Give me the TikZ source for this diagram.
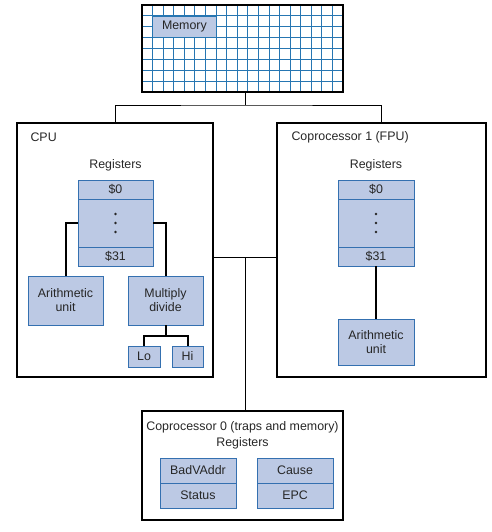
\documentclass[tikz,border=0pt]{standalone}
\usepackage{fontspec}
\setmainfont{Liberation Sans}
\usepackage{tikz}
\definecolor{regfill}{RGB}{188,201,228}
\definecolor{regline}{RGB}{52,112,176}
\definecolor{gridline}{RGB}{38,118,178}
\colorlet{symbols}{black!85}

\begin{document}
\begin{tikzpicture}[x=1pt,y=-1pt,
  font=\fontsize{12.4}{14}\selectfont, text=symbols,
  unitbox/.style={draw=regline, fill=regfill, line width=0.8pt, inner sep=0pt},
  outerbox/.style={draw, line width=1.6pt, inner sep=0pt},
  bus/.style={line width=0.8pt},
  wire/.style={line width=2pt}]
\useasboundingbox (0,0) rectangle (491,532);

% memory grid
\foreach \i in {1,...,18}
  \draw[gridline, line width=0.9pt] ({142+\i*201/19},5) -- ({142+\i*201/19},92);
\foreach \j in {1,...,7}
  \draw[gridline, line width=0.9pt] (142,{5+\j*87/8}) -- (343,{5+\j*87/8});
\node[unitbox, draw=gridline, minimum width=63.5, minimum height=21.75] (memlbl) at (184.4,26.8) {Memory};
\node[outerbox, minimum width=201, minimum height=87] (mem) at (242.5,48.5) {};

% outer boxes
\node[outerbox, minimum width=196, minimum height=254] (cpu) at (115,250) {};
\node[outerbox, minimum width=209, minimum height=254] (fpu) at (381.5,250) {};
\node[outerbox, minimum width=201, minimum height=109] (cp0) at (242.5,465.5) {};
\node[anchor=west] (cpulbl) at (27,137) {CPU};
\node[anchor=west] (fpulbl) at (288,137) {Coprocessor 1 (FPU)};

% buses
\coordinate (memjoin) at (245,105);
\coordinate (midjoin) at (245,257);
\draw[bus] (mem.south -| memjoin) -- (memjoin);
\draw[bus] (cpu.north) |- (memjoin) -| (fpu.north);
\draw[bus] (cpu.east |- midjoin) -- (fpu.west |- midjoin);
\draw[bus] (midjoin) -- (midjoin |- cp0.north);

% CPU
\node (cpureg) at (115.5,165) {Registers};
\node[unitbox, minimum width=75, minimum height=19] (cpur0) at (115.5,189.5) {\$0};
\node[unitbox, minimum width=75, minimum height=48] (cpudots) at (115.5,223) {};
\node[unitbox, minimum width=75, minimum height=19] (cpur31) at (115.5,256.5) {\$31};
\foreach \d in {-9,0,9}
  \fill[symbols] (cpudots.center) ++(0,\d) circle (1.4);
\node[unitbox, minimum width=75, minimum height=49, align=center] (cpualu) at (65.5,300.5) {Arithmetic\\unit};
\node[unitbox, minimum width=75, minimum height=49, align=center] (cpumul) at (165.5,300.5) {Multiply\\divide};
\node[unitbox, minimum width=32, minimum height=21] (cpulo) at (144,356.5) {Lo};
\node[unitbox, minimum width=31, minimum height=21] (cpuhi) at (187.5,356.5) {Hi};

\draw[wire] (cpudots.west) -| (cpualu.north);
\draw[wire] (cpudots.east) -| (cpumul.north);
\draw[wire] (cpumul.south) -- ++(0,11) coordinate (muljoin);
\draw[wire] (cpulo.north) |- (muljoin) -| (cpuhi.north);

% FPU
\node (fpureg) at (376,165) {Registers};
\node[unitbox, minimum width=76, minimum height=19] (fpur0) at (376,189.5) {\$0};
\node[unitbox, minimum width=76, minimum height=48] (fpudots) at (376,223) {};
\node[unitbox, minimum width=76, minimum height=19] (fpur31) at (376,256.5) {\$31};
\foreach \d in {-9,0,9}
  \fill[symbols] (fpudots.center) ++(0,\d) circle (1.4);
\node[unitbox, minimum width=76, minimum height=46, align=center] (fpualu) at (376,342) {Arithmetic\\unit};
\draw[wire] (fpur31.south) -- (fpualu.north);

% coprocessor 0
\node (cp0lbl) at (242.5,427) {Coprocessor 0 (traps and memory)};
\node (cp0reg) at (242.5,443) {Registers};
\node[unitbox, minimum width=76, minimum height=25] (badv) at (198,470.5) {BadVAddr};
\node[unitbox, minimum width=76, minimum height=25] (status) at (198,495.5) {Status};
\node[unitbox, minimum width=76, minimum height=25] (cause) at (295,470.5) {Cause};
\node[unitbox, minimum width=76, minimum height=25] (epc) at (295,495.5) {EPC};

\end{tikzpicture}
\end{document}
